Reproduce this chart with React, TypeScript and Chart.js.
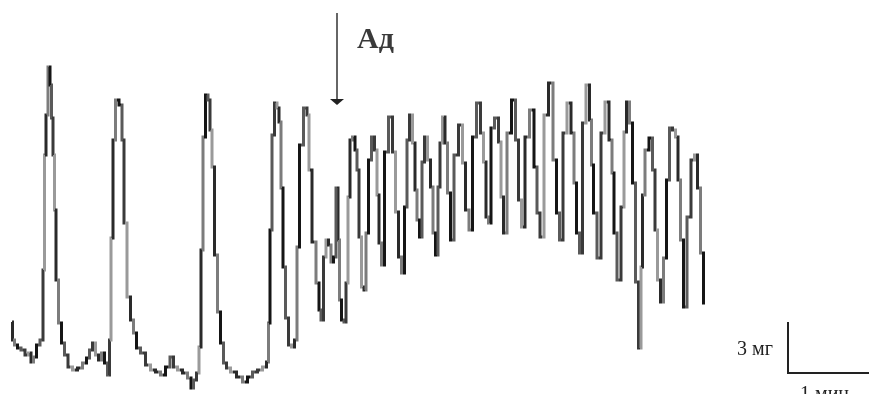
import React, { useEffect, useRef } from 'react';
import { Chart, registerables } from 'chart.js';

Chart.register(...registerables);

// Recording of muscle tension (chart units: time along x, tension along y).
// Control period (spontaneous contractions) up to adrenaline application.
const controlTime = [12,13,16,19,23,27,30,32,35,38,42,44,45,47,49,51,52,54,55,57,60,63,66,70,75,80,85,88,91,94,97,100,103,106,109,110,112,114,117,121,123,125,129,132,135,138,143,148,153,158,163,168,172,175,180,185,190,192,195,198,200,202,204,207,209,211,213,216,219,222,225,228,233,240,245,250,255,260,265,268,269,271,273,276,278,280,282,284,287,290,293,296,298,301,306,308,310,314,318,320,322,325,327,330,332,335,337];
const controlTension = [72,54,49,46,44,39,41,32,37,49,54,124,239,279,327,309,276,239,184,114,71,51,39,27,24,26,31,36,44,51,39,34,41,31,19,54,156,254,294,289,254,171,97,74,61,46,41,29,24,22,19,27,37,27,24,21,16,6,14,21,47,144,257,299,294,264,227,139,82,51,31,26,22,17,12,17,22,24,27,32,71,164,259,291,286,272,206,127,76,49,47,54,147,249,286,279,224,152,111,84,74,137,154,149,132,137,206];

// After adrenaline (Ад)
const adTime = [337,339,340,343,345,347,349,351,354,356,358,360,363,365,367,370,373,376,378,380,383,386,391,394,397,400,403,406,408,411,414,416,418,421,423,426,429,432,434,437,439,441,444,446,449,452,456,461,464,467,471,474,479,482,485,487,490,492,497,500,502,505,509,514,517,520,523,527,532,536,538,542,546,551,555,558,561,565,569,573,575,578,581,584,588,591,592,595,599,603,607,611,613,615,619,623,625,628,631,634,637,640,642,643,647,651,654,656,659,662,665,668,671,674,677,679,682,685,689,693,696,699,702,705];
const adTension = [206,154,94,74,72,111,197,254,257,244,224,157,107,104,161,234,257,244,199,151,129,242,277,242,182,137,121,187,254,279,251,204,174,157,232,257,234,207,161,139,207,251,277,251,201,154,239,269,231,184,164,257,291,261,232,177,171,266,276,252,197,161,261,294,254,194,167,257,284,227,181,157,279,311,234,181,154,261,291,261,211,161,141,271,309,274,229,181,136,261,292,254,221,161,114,187,262,292,271,211,112,46,127,199,244,256,224,164,114,92,136,214,266,264,257,214,154,87,177,234,239,206,141,91];

// Adrenaline marker
const AD_LABEL = 'Ад';
const AD_TIME = 337;
const AD_ARROW_TOP = 381;
const AD_ARROW_BOTTOM = 294;

// Calibration bar: 3 mg / 1 min
const SCALE_FORCE_LABEL = '3 мг';
const SCALE_TIME_LABEL = '1 мин';
const SCALE_ORIGIN_TIME = 788;
const SCALE_ORIGIN_TENSION = 21;
const SCALE_TIME_LEN = 81; // 1 min
const SCALE_FORCE_LEN = 51; // 3 mg

const TIME_RANGE = [0, 870];
const TENSION_RANGE = [0, 394];

const STROKE_SHADES = ['#2a2a2a', '#7c7c7c', '#151515', '#5a5a5a', '#3a3a3a', '#9a9a9a'];

const toPoints = (xs: number[], ys: number[]) => xs.map((x, i) => ({ x, y: ys[i] }));

const annotations = {
  id: 'annotations',
  afterDatasetsDraw(chart: any) {
    const { ctx, scales } = chart;
    const xs = scales.x;
    const ys = scales.y;
    ctx.save();
    const ax = xs.getPixelForValue(AD_TIME);
    const aTop = ys.getPixelForValue(AD_ARROW_TOP);
    const aBot = ys.getPixelForValue(AD_ARROW_BOTTOM);
    ctx.strokeStyle = '#666';
    ctx.lineWidth = 2;
    ctx.beginPath();
    ctx.moveTo(ax, aTop);
    ctx.lineTo(ax, aBot);
    ctx.stroke();
    ctx.fillStyle = '#222';
    ctx.beginPath();
    ctx.moveTo(ax - 7, aBot - 1);
    ctx.lineTo(ax + 7, aBot - 1);
    ctx.lineTo(ax, aBot + 5);
    ctx.closePath();
    ctx.fill();

    ctx.fillStyle = '#3a3a3a';
    ctx.textBaseline = 'alphabetic';
    ctx.textAlign = 'left';
    ctx.font = 'bold 30px "Liberation Serif", serif';
    ctx.fillText(AD_LABEL, xs.getPixelForValue(AD_TIME + 20), ys.getPixelForValue(346));

    ctx.font = '20px "Liberation Serif", serif';
    ctx.fillStyle = '#222';
    ctx.fillText(SCALE_FORCE_LABEL, xs.getPixelForValue(SCALE_ORIGIN_TIME - 51), ys.getPixelForValue(SCALE_ORIGIN_TENSION + 18));
    ctx.fillText(SCALE_TIME_LABEL, xs.getPixelForValue(SCALE_ORIGIN_TIME + 12), ys.getPixelForValue(SCALE_ORIGIN_TENSION - 27));
    ctx.restore();
  },
};

export default function App() {
  const ref = useRef<HTMLCanvasElement | null>(null);
  useEffect(() => {
    if (!ref.current) return;
    const lineStyle = {
      borderColor: '#333',
      borderWidth: 3,
      pointRadius: 0,
      tension: 0,
      stepped: 'middle' as const,
      borderJoinStyle: 'miter' as const,
      borderCapStyle: 'butt' as const,
      fill: false,
      segment: {
        borderColor: (c: any) => STROKE_SHADES[c.p0DataIndex % STROKE_SHADES.length],
      },
    };
    const chart = new Chart(ref.current, {
      type: 'line',
      data: {
        datasets: [
          { label: 'control', data: toPoints(controlTime, controlTension), ...lineStyle },
          { label: 'adrenaline', data: toPoints(adTime, adTension), ...lineStyle },
          {
            label: 'calibration',
            data: [
              { x: SCALE_ORIGIN_TIME, y: SCALE_ORIGIN_TENSION + SCALE_FORCE_LEN },
              { x: SCALE_ORIGIN_TIME, y: SCALE_ORIGIN_TENSION },
              { x: SCALE_ORIGIN_TIME + SCALE_TIME_LEN, y: SCALE_ORIGIN_TENSION },
            ],
            borderColor: '#222',
            borderWidth: 2,
            pointRadius: 0,
            tension: 0,
            borderJoinStyle: 'miter' as const,
            fill: false,
          },
        ],
      },
      options: {
        animation: false,
        responsive: false,
        layout: { padding: 0 },
        plugins: { legend: { display: false }, tooltip: { enabled: false } },
        scales: {
          x: { type: 'linear', min: TIME_RANGE[0], max: TIME_RANGE[1], display: false },
          y: { type: 'linear', min: TENSION_RANGE[0], max: TENSION_RANGE[1], display: false },
        },
      },
      plugins: [annotations],
    });
    return () => chart.destroy();
  }, []);
  return (
    <div style={{ position: 'absolute', left: 0, top: 0, width: 870, height: 394, background: '#fff' }}>
      <canvas ref={ref} width={870} height={394} style={{ display: 'block' }} />
    </div>
  );
}
